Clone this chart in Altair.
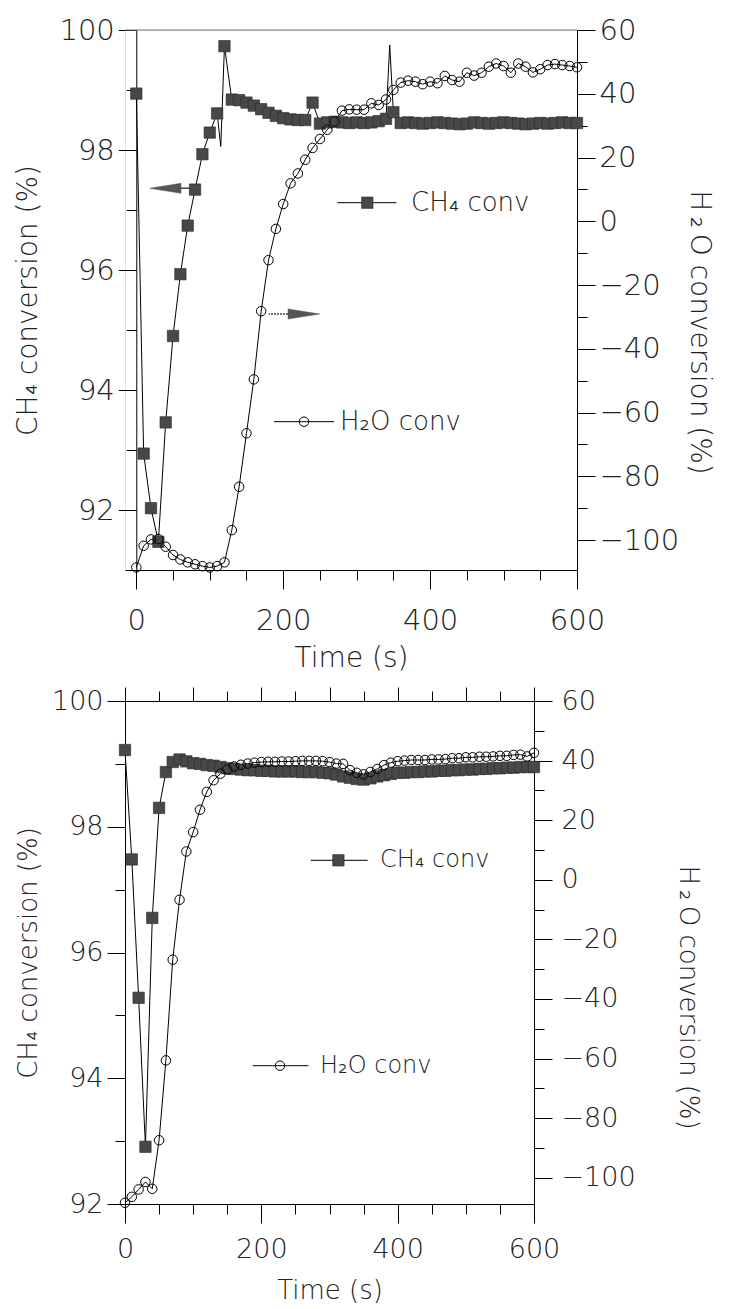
import altair as alt
import pandas as pd

FONT = "DejaVu Sans"
INK = "#222222"

# ---------------- top panel data ----------------
top_ch4_t = [0, 10, 20, 30, 40, 50, 60, 70, 80, 90, 100, 110, 115, 120,
             130, 140, 150, 160, 170, 180, 190, 200, 210, 220, 230, 240, 250,
             260, 270, 280, 290, 300, 310, 320, 330, 340, 345, 350,
             360, 370, 380, 390, 400, 410, 420, 430, 440, 450, 460, 470, 480,
             490, 500, 510, 520, 530, 540, 550, 560, 570, 580, 590, 600]
top_ch4_v = [98.94, 92.94, 92.03, 91.47, 93.46, 94.90, 95.93, 96.74, 97.34, 97.93,
             98.29, 98.61, 98.06, 99.73,
             98.84, 98.83, 98.79, 98.74, 98.68, 98.62, 98.57, 98.53, 98.51, 98.50,
             98.50, 98.79, 98.44, 98.46, 98.47, 98.46, 98.45, 98.46, 98.45, 98.46,
             98.48, 98.52, 99.75, 98.63,
             98.45, 98.46, 98.45, 98.44, 98.45, 98.46, 98.45, 98.44, 98.43, 98.44,
             98.46, 98.45, 98.44, 98.45, 98.46, 98.45, 98.44, 98.43, 98.44, 98.45,
             98.44, 98.45, 98.46, 98.45, 98.45]
top_ch4_line_only = [115, 345]   # vertices of the trace drawn without a symbol

top_h2o_t = list(range(0, 601, 10))
top_h2o_v = [-108.6, -101.8, -99.8, -99.7, -102.1, -104.7, -106.1, -107.0, -107.6, -108.2,
             -108.6, -108.2, -107.0, -96.9, -83.3, -66.5, -49.6, -28.2, -12.2, -2.4,
             5.4, 11.9, 15.0, 19.3, 23.0, 25.8, 28.7, 31.3, 34.7, 35.1,
             35.0, 35.0, 37.0, 36.5, 38.2, 41.2, 43.5, 44.1, 43.8, 43.0,
             43.8, 43.3, 45.6, 44.3, 43.8, 46.6, 45.7, 46.6, 48.5, 49.5,
             48.7, 46.6, 49.5, 48.5, 46.7, 47.7, 49.0, 49.3, 49.0, 48.7,
             48.3]

# ---------------- bottom panel data ----------------
bot_t = list(range(0, 601, 10))
bot_ch4_v = [99.22, 97.48, 95.28, 92.91, 96.55, 98.30, 98.87, 99.03, 99.07, 99.04,
             99.01, 99.00, 98.98, 98.97, 98.95, 98.93, 98.92, 98.91, 98.90, 98.90,
             98.89, 98.89, 98.88, 98.88, 98.88, 98.88, 98.87, 98.87, 98.87, 98.86,
             98.85, 98.83, 98.80, 98.78, 98.76, 98.75, 98.77, 98.80, 98.82, 98.84,
             98.86, 98.86, 98.87, 98.87, 98.88, 98.88, 98.89, 98.89, 98.90, 98.90,
             98.91, 98.91, 98.92, 98.92, 98.93, 98.93, 98.94, 98.94, 98.95, 98.95,
             98.95]
bot_h2o_v = [-108.4, -106.4, -103.9, -101.4, -103.7, -87.4, -60.6, -26.8, -6.7, 9.5,
             16.0, 23.5, 29.5, 33.4, 35.6, 37.0, 38.0, 38.6, 39.0, 39.3,
             39.5, 39.6, 39.6, 39.7, 39.7, 39.8, 39.9, 39.9, 39.9, 39.8,
             39.5, 39.0, 38.9, 36.8, 35.9, 35.4, 36.2, 37.2, 38.5, 39.3,
             39.8, 40.0, 40.2, 40.2, 40.2, 40.4, 40.4, 40.5, 40.8, 40.8,
             41.1, 41.1, 41.3, 41.3, 41.4, 41.6, 41.6, 41.9, 42.0, 41.4,
             42.6]

ch4_label = "CH\u2084 conversion (%)"
h2o_label = "H\u2009\u2082\u2009O conversion (%)"
ch4_leg = "CH\u2084  conv"
h2o_leg = "H\u2082O  conv"
time_label = "Time (s)"

top_ch4 = pd.DataFrame({"t": top_ch4_t, "v": top_ch4_v,
                        "m": [t not in top_ch4_line_only for t in top_ch4_t]})
top_h2o = pd.DataFrame({"t": top_h2o_t, "v": top_h2o_v, "m": True})
bot_ch4 = pd.DataFrame({"t": bot_t, "v": bot_ch4_v, "m": True})
bot_h2o = pd.DataFrame({"t": bot_t, "v": bot_h2o_v, "m": True})
one = pd.DataFrame({"k": [0]})


def cond(test, a, b):
    return {"condition": {"test": test, "value": a}, "value": b}


def panel(ch4, h2o, W, H, xdom, ldom, rdom, lvals, loff, fs, tfs,
          lt_x, rt_x, rt_y, xt_y, xpad, rpad, top_ticks, legends, arrows):
    xs = alt.Scale(domain=xdom, nice=False, zero=False)
    ls = alt.Scale(domain=ldom, nice=False, zero=False)
    rs = alt.Scale(domain=rdom, nice=False, zero=False)
    common = dict(labelFont=FONT, labelFontSize=fs, labelColor=INK, labelFontWeight=200,
                  titleFont=FONT, titleFontSize=tfs, titleColor=INK, titleFontWeight=200,
                  domainColor="black", tickColor="black", domainWidth=1, tickWidth=1,
                  grid=False, labelOverlap=False, labelFlush=False)
    x_axis = alt.Axis(orient="bottom", values=list(range(0, 601, 50)), format="d",
                      labelExpr="datum.value % 200 === 0 ? datum.label : ''",
                      tickSize=cond("datum.value % 200 === 0", 19, 10),
                      labelPadding=xpad, title=time_label, titleY=xt_y,
                      titleBaseline="middle", **common)
    l_axis = alt.Axis(orient="left", values=lvals, format="d",
                      labelExpr="datum.value % 2 === 0 ? datum.label : ''",
                      tickSize=cond("datum.value % 2 === 0", 18, 10),
                      labelPadding=4, offset=loff, title=ch4_label, titleX=lt_x,
                      titleBaseline="middle", **common)
    r_axis = alt.Axis(orient="right", values=list(range(-100, 61, 10)), format="d",
                      labelExpr="datum.value % 20 === 0 ? datum.label : ''",
                      tickSize=cond("datum.value % 20 === 0", 18, 10),
                      labelPadding=rpad, title=h2o_label, titleX=rt_x, titleY=rt_y,
                      titleBaseline="middle", **common)

    ch4_line = alt.Chart(ch4).mark_line(color="black", strokeWidth=1).encode(
        x=alt.X("t:Q", scale=xs, axis=x_axis),
        y=alt.Y("v:Q", scale=ls, axis=l_axis),
        order="t:Q")
    ch4_pts = alt.Chart(ch4).transform_filter("datum.m").mark_point(
        shape="square", filled=True, fill="#484848", stroke="#2a2a2a",
        strokeWidth=0.6, size=130, opacity=1).encode(
        x=alt.X("t:Q", scale=xs, axis=None),
        y=alt.Y("v:Q", scale=ls, axis=None))
    h2o_line = alt.Chart(h2o).mark_line(color="black", strokeWidth=1).encode(
        x=alt.X("t:Q", scale=xs, axis=None),
        y=alt.Y("v:Q", scale=rs, axis=r_axis),
        order="t:Q")
    if top_ticks:
        xt_axis = alt.Axis(orient="top", values=list(range(0, 601, 50)), labels=False,
                           title=None, tickSize=cond("datum.value % 100 === 0", 14, 10),
                           domainColor="black", tickColor="black", grid=False)
    else:
        xt_axis = None
    h2o_pts = alt.Chart(h2o).mark_point(
        shape="circle", filled=False, stroke="black", strokeWidth=1, size=90,
        opacity=1).encode(
        x=alt.X("t:Q", scale=xs, axis=xt_axis),
        y=alt.Y("v:Q", scale=rs, axis=None))

    layers = [ch4_line, h2o_line, ch4_pts, h2o_pts]

    if not top_ticks:
        layers.append(alt.Chart(one).mark_rule(color="#777777", strokeWidth=1).encode(
            x=alt.value(0), x2=alt.value(W), y=alt.value(0)))

    for (kind, x1, x2, y, xm, tx, txt, tsize) in legends:
        layers.append(alt.Chart(one).mark_rule(color="black", strokeWidth=1).encode(
            x=alt.value(x1), x2=alt.value(x2), y=alt.value(y)))
        if kind == "sq":
            layers.append(alt.Chart(one).mark_point(
                shape="square", filled=True, fill="#484848", stroke="#2a2a2a",
                strokeWidth=0.6, size=130, opacity=1).encode(
                x=alt.value(xm), y=alt.value(y)))
        else:
            layers.append(alt.Chart(one).mark_point(
                shape="circle", filled=False, stroke="black", strokeWidth=1,
                size=90, opacity=1).encode(x=alt.value(xm), y=alt.value(y)))
        layers.append(alt.Chart(one).mark_text(
            text=txt, align="left", baseline="middle", font=FONT, fontSize=tsize,
            fontWeight=200, color=INK).encode(x=alt.value(tx), y=alt.value(y)))

    for (direction, tip, base, tail, y) in arrows:
        length = abs(base - tip)
        centre = (base + tip) / 2
        path = ("M-1,0L1,-0.32L1,0.32Z" if direction == "left"
                else "M1,0L-1,-0.32L-1,0.32Z")
        layers.append(alt.Chart(one).mark_point(
            shape=path, filled=True, fill="#555555", stroke="#555555",
            strokeWidth=0.5, size=length * length, opacity=1).encode(
            x=alt.value(centre), y=alt.value(y)))
        layers.append(alt.Chart(one).mark_rule(
            color="#444444", strokeWidth=1.6,
            strokeDash=[2, 1] if direction == "right" else [1, 0]).encode(
            x=alt.value(base), x2=alt.value(tail), y=alt.value(y)))

    return alt.layer(*layers).resolve_scale(y="independent").resolve_axis(
        x="independent", y="independent").properties(width=W, height=H)


W1, H1 = 452, 540
W2, H2 = 409, 503

top = panel(top_ch4, top_h2o, W1, H1, [-15.4, 600], [91, 100], [-109.4, 60],
            list(range(91, 101)), -11.3, 29, 28,
            lt_x=-108, rt_x=121, rt_y=302, xt_y=88, xpad=17, rpad=4, top_ticks=False,
            legends=[("sq", 212.3, 271.3, 172.7, 242.3, 286, ch4_leg, 26),
                     ("ci", 149, 209, 391.7, 179, 215, h2o_leg, 26)],
            arrows=[("left", 24.7, 56, 65, 158.3),
                    ("right", 194.7, 163, 143.7, 284)])

bottom = panel(bot_ch4, bot_h2o, W2, H2, [0, 600], [92, 100], [-108.8, 60],
               list(range(92, 101)), 0, 27, 26,
               lt_x=-97, rt_x=153, rt_y=296, xt_y=86, xpad=13, rpad=9, top_ticks=True,
               legends=[("sq", 185.7, 242.7, 159.3, 213.4, 255, ch4_leg, 24),
                        ("ci", 127.7, 183.4, 364.7, 155, 195, h2o_leg, 24)],
               arrows=[])

chart = alt.vconcat(top, bottom, spacing=13).properties(
    padding={"left": 5, "top": 7, "right": 5, "bottom": 5}
).configure_view(stroke=None).configure(background="white")

chart.save("out.html", embed_options={"renderer": "svg", "actions": False})
